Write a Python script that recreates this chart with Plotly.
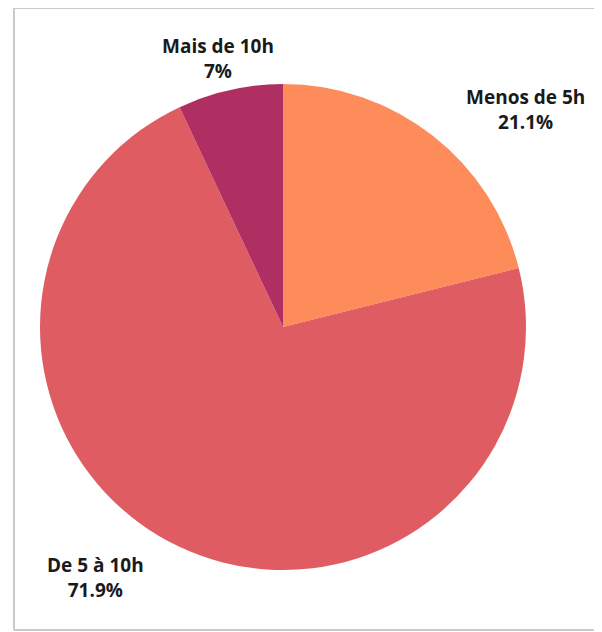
import plotly.graph_objects as go

W, H = 602, 632
OFF = 8  # page body margin shifts the figure by this much

labels = ["Menos de 5h", "De 5 à 10h", "Mais de 10h"]
values = [21.1, 71.9, 7]
colors = ["#FE8C5B", "#DF5D62", "#B02F62"]

# label anchor points in pixels (center of the two-line block)
label_pos = {
    "Menos de 5h": (525, 110),
    "De 5 à 10h": (95, 577),
    "Mais de 10h": (218, 59),
}


def px(x, y):
    return (x - OFF) / W, 1 - (y - OFF) / H


cx, cy, r = 283, 327, 243
x0, y0 = px(cx - r, cy + r)
x1, y1 = px(cx + r, cy - r)

fig = go.Figure(go.Pie(
    labels=labels,
    values=values,
    marker=dict(colors=colors, line=dict(width=0)),
    sort=False,
    direction="clockwise",
    rotation=0,
    textinfo="none",
    hoverinfo="label+percent",
    domain=dict(x=[x0, x1], y=[y0, y1]),
    showlegend=False,
))

for lab, val in zip(labels, values):
    ax, ay = px(*label_pos[lab])
    fig.add_annotation(
        text=f"<b>{lab}</b><br><b>{val:g}%</b>",
        xref="paper", yref="paper", x=ax, y=ay,
        xanchor="center", yanchor="middle", showarrow=False,
        font=dict(family="Open Sans", size=19, weight=800, color="#1a1a1a"),
    )

# light frame (left, top, bottom)
for (a, b, c, d) in [(14, 8, 14, 630), (14, 8, 610, 8), (14, 630, 610, 630)]:
    xa, ya = px(a, b)
    xb, yb = px(c, d)
    fig.add_shape(type="line", xref="paper", yref="paper",
                  x0=xa, y0=ya, x1=xb, y1=yb,
                  line=dict(color="#C9C9C9", width=2))

fig.update_layout(
    width=W, height=H,
    margin=dict(l=0, r=0, t=0, b=0),
    paper_bgcolor="white",
    plot_bgcolor="white",
)

fig.write_html("out.html")
